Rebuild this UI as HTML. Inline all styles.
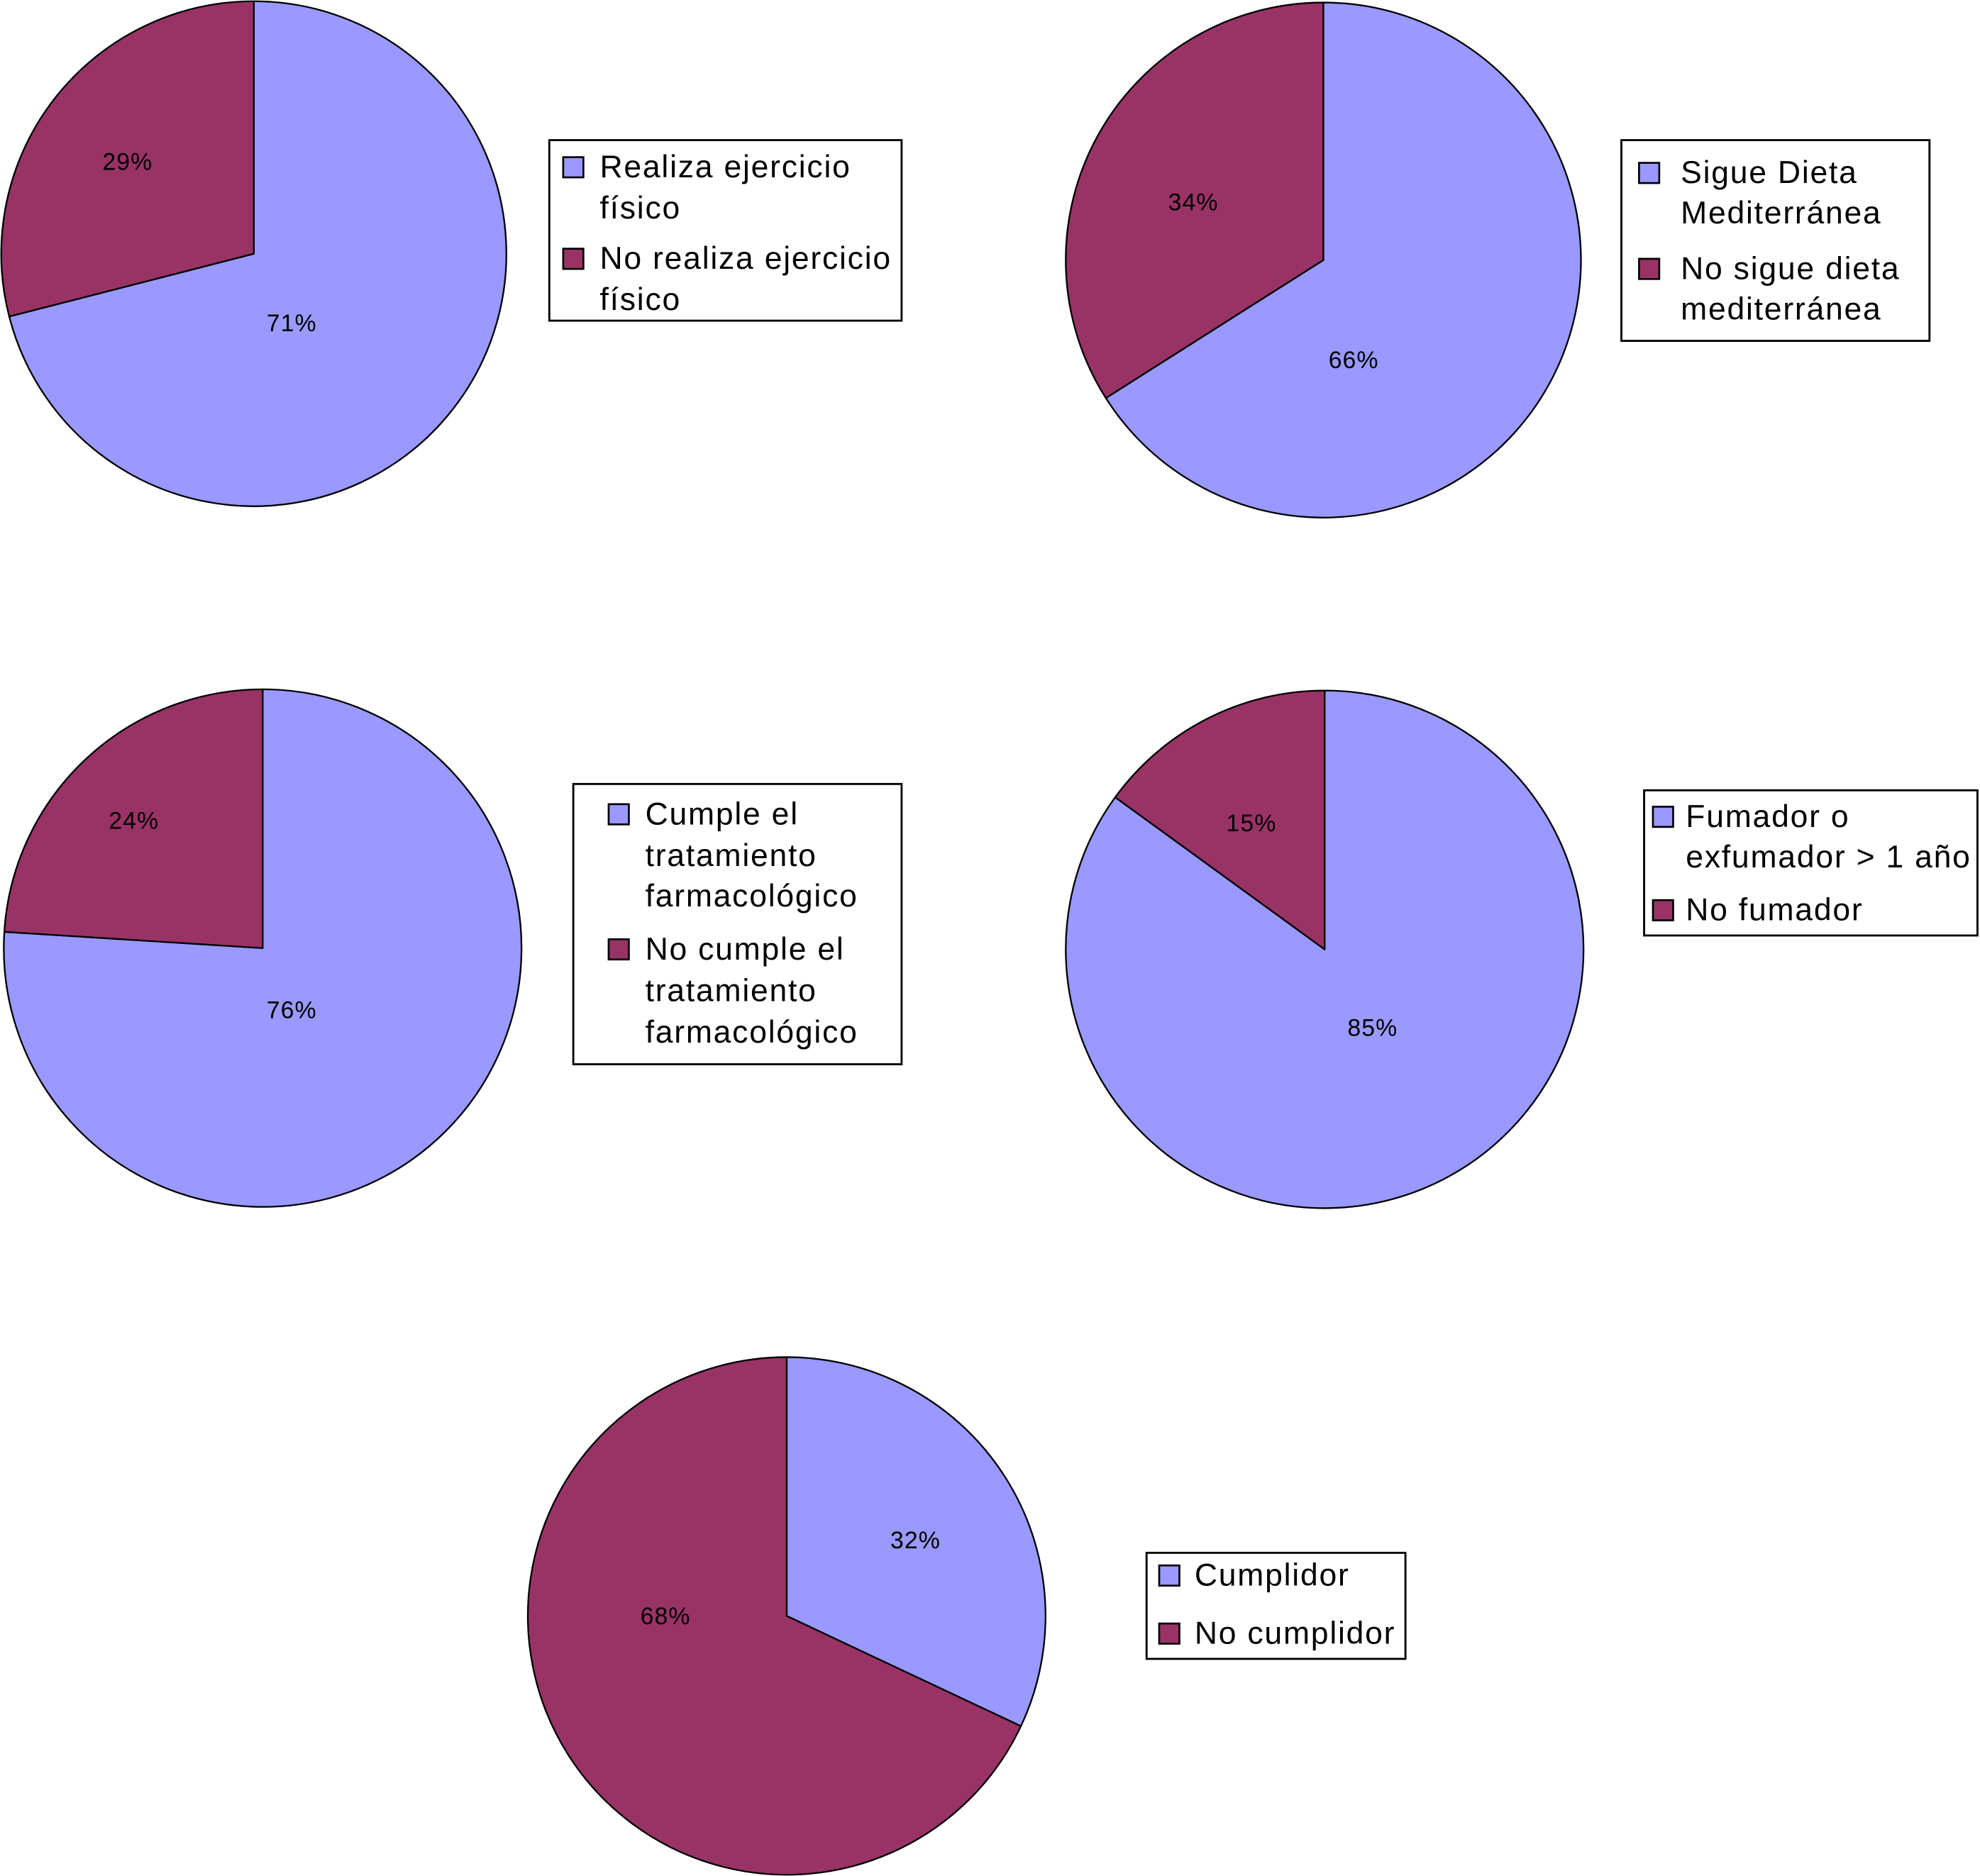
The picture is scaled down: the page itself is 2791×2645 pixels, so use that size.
<!DOCTYPE html>
<html><head><meta charset="utf-8"><style>
html,body{margin:0;padding:0;background:#fff}
svg{display:block}
text{font-family:"Liberation Sans",sans-serif;fill:#000}
</style></head><body>
<svg id="chart" width="2791" height="2645" viewBox="0 0 1568 1486" xmlns="http://www.w3.org/2000/svg"></svg>
<script>
const chartNames = ["ejercicio","dieta","tratamiento","fumador","cumplidor"];
const positiveValues = [71,66,76,85,32];
const negativeValues = [29,34,24,15,68];
const positiveLabels = ["71%","66%","76%","85%","32%"];
const negativeLabels = ["29%","34%","24%","15%","68%"];
const legendPositive = [["Realiza ejercicio","físico"],["Sigue Dieta","Mediterránea"],["Cumple el","tratamiento","farmacológico"],["Fumador o","exfumador > 1 año"],["Cumplidor"]];
const legendNegative = [["No realiza ejercicio","físico"],["No sigue dieta","mediterránea"],["No cumple el","tratamiento","farmacológico"],["No fumador"],["No cumplidor"]];

// layout (display units)
const layout = [
 {cx:201,cy:201,r:200,pl:[231,256],nl:[101,128],box:[435,111,279,143],base:[140.5,173,213,245.5],sqx:446,tx:475},
 {cx:1048,cy:206,r:204,pl:[1072,285],nl:[945,160],box:[1284,111,244,159],base:[145,177,221,253],sqx:1298,tx:1331},
 {cx:208,cy:751,r:205,pl:[231,800],nl:[106,650],box:[454,621,260,222],base:[653,686,718,760,793,826],sqx:482,tx:511},
 {cx:1049,cy:752,r:205,pl:[1087,814],nl:[991,652],box:[1302,626,264,115],base:[655,687,729],sqx:1309,tx:1335},
 {cx:623,cy:1280,r:205,pl:[725,1220],nl:[527,1280],box:[908,1230,205,84],base:[1256,1302],sqx:918,tx:946}
];
const BLUE="#9999FF", RED="#993366";
const svg=document.getElementById('chart');
const NS="http://www.w3.org/2000/svg";
function mk(tag,attrs,parent){const e=document.createElementNS(NS,tag);for(const k in attrs)e.setAttribute(k,attrs[k]);parent.appendChild(e);return e;}
function pt(L,frac){const a=frac*2*Math.PI;return [L.cx+L.r*Math.sin(a),L.cy-L.r*Math.cos(a)];}
function slice(L,f0,f1,color,parent){
  if(f1-f0>=0.9999){return mk('circle',{cx:L.cx,cy:L.cy,r:L.r,fill:color,stroke:'#000','stroke-width':1.3},parent);}
  const p0=pt(L,f0),p1=pt(L,f1),large=(f1-f0)>0.5?1:0;
  return mk('path',{d:`M${L.cx},${L.cy} L${p0[0]},${p0[1]} A${L.r},${L.r} 0 ${large} 1 ${p1[0]},${p1[1]} Z`,fill:color,stroke:'#000','stroke-width':1.3,'stroke-linejoin':'round'},parent);
}
chartNames.forEach((name,i)=>{
  const L=layout[i];
  const g=mk('g',{},svg);
  
  
  const tot=positiveValues[i]+negativeValues[i];
  const fp=positiveValues[i]/tot;
  const s1=slice(L,0,fp,BLUE,g);
  
  
  const s2=slice(L,fp,1,RED,g);
  
  
  const t1=mk('text',{x:L.pl[0],y:L.pl[1]+6.5,'font-size':19,'letter-spacing':0.6,'text-anchor':'middle'},g);t1.textContent=positiveLabels[i];
  
  
  const t2=mk('text',{x:L.nl[0],y:L.nl[1]+6.5,'font-size':19,'letter-spacing':0.6,'text-anchor':'middle'},g);t2.textContent=negativeLabels[i];
  
  
  // legend
  const lg=mk('g',{},svg);
  
  
  mk('rect',{x:L.box[0],y:L.box[1],width:L.box[2],height:L.box[3],fill:'#fff',stroke:'#000','stroke-width':1.6},lg);
  let k=0;
  [[legendPositive[i],BLUE,'yes'],[legendNegative[i],RED,'no']].forEach(([lines,color,key])=>{
    const b0=L.base[k];
    const sq=mk('rect',{x:L.sqx,y:b0-16,width:16,height:16,fill:color,stroke:'#000','stroke-width':1.5},lg);
    
    
    lines.forEach(line=>{
      const t=mk('text',{x:L.tx,y:L.base[k],'font-size':25,'letter-spacing':1},lg);t.textContent=line;
      
      
      k++;
    });
  });
});
</script>
</body></html>
